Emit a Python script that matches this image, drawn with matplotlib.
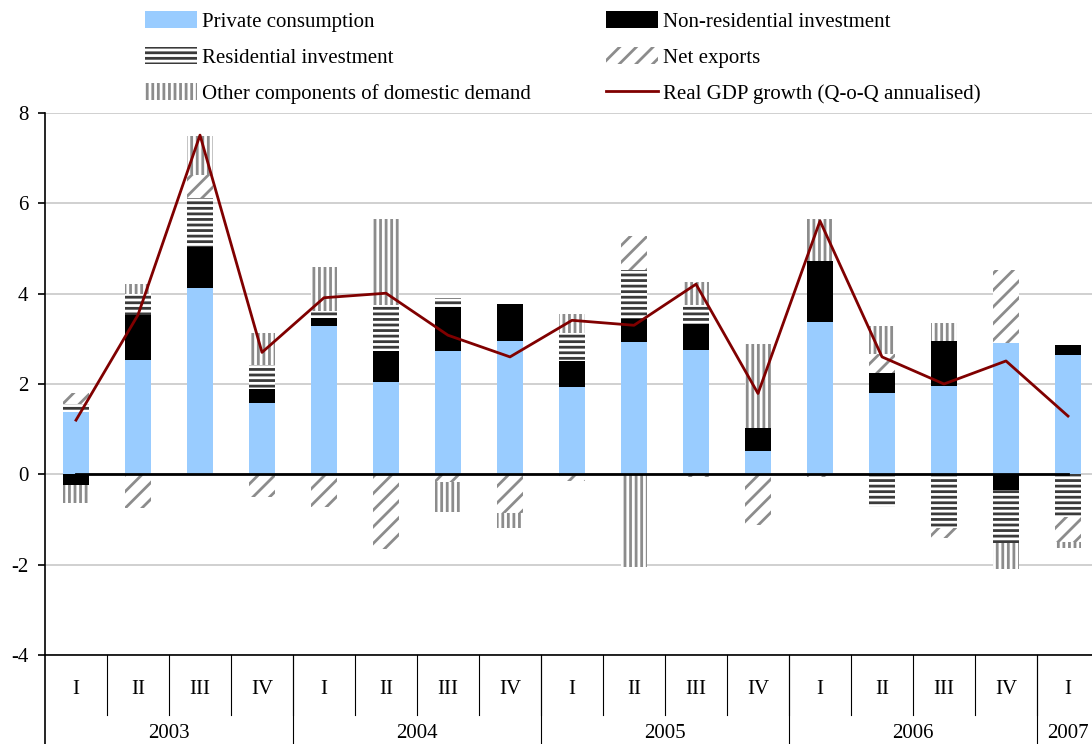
import numpy as np
import matplotlib.pyplot as plt

plt.rcParams['font.family'] = ['Liberation Serif', 'DejaVu Serif']
plt.rcParams['hatch.linewidth'] = 2.0
plt.rcParams['axes.unicode_minus'] = False

# Contributions to real GDP growth, percentage points
quarters = ['I', 'II', 'III', 'IV'] * 4 + ['I']
years = ['2003', '2004', '2005', '2006', '2007']
year_quarters = [4, 4, 4, 4, 1]

private_consumption = [1.39, 2.53, 4.13, 1.58, 3.28, 2.04, 2.73, 2.95, 1.94,
                       2.93, 2.75, 0.52, 3.37, 1.80, 1.95, 2.90, 2.64]
non_residential = [-0.24, 1.00, 0.90, 0.30, 0.19, 0.69, 0.98, 0.82, 0.57,
                   0.52, 0.58, 0.50, 1.35, 0.44, 1.00, -0.35, 0.22]
residential = [0.16, 0.47, 1.08, 0.54, 0.15, 1.03, 0.19, 0.00, 0.63,
               1.07, 0.43, 0.00, 0.00, -0.72, -1.18, -1.18, -0.94]
net_exports = [0.26, -0.74, 0.52, -0.50, -0.73, -1.65, -0.18, -0.85, -0.15,
               0.76, -0.05, -1.13, -0.07, 0.42, -0.22, 1.62, -0.55]
other_domestic = [-0.39, 0.21, 0.87, 0.70, 0.97, 1.89, -0.65, -0.33, 0.40,
                  -2.05, 0.50, 1.86, 0.93, 0.62, 0.40, -0.56, -0.13]
gdp_growth = [1.20, 3.53, 7.51, 2.70, 3.91, 4.01, 3.08, 2.60, 3.41,
              3.30, 4.21, 1.79, 5.61, 2.60, 2.00, 2.51, 1.29]

components = [
    ('Private consumption', private_consumption,
     dict(facecolor='#99ccff', edgecolor='#99ccff')),
    ('Non-residential investment', non_residential,
     dict(facecolor='black', edgecolor='black')),
    ('Residential investment', residential,
     dict(facecolor='white', edgecolor='#3a3a3a', hatch='---')),
    ('Net exports', net_exports,
     dict(facecolor='white', edgecolor='#8c8c8c', hatch='//')),
    ('Other components of domestic demand', other_domestic,
     dict(facecolor='white', edgecolor='#8c8c8c', hatch='|||')),
]

fig = plt.figure(figsize=(10.92, 7.44), dpi=100)
ax = fig.add_axes([45 / 1092, 89 / 744, 1054 / 1092, 542 / 744])

x = np.arange(len(quarters))
pos = np.zeros(len(x))
neg = np.zeros(len(x))
handles = {}
for label, vals, style in components:
    v = np.array(vals)
    bottom = np.where(v >= 0, pos, neg)
    handles[label] = ax.bar(x, v, width=0.42, bottom=bottom, linewidth=0,
                            label=label, zorder=2, **style)
    pos += np.clip(v, 0, None)
    neg += np.clip(v, None, 0)

ax.plot([x[0], x[-1]], [0, 0], color='black', lw=2, zorder=3)
gdp_line, = ax.plot(x, gdp_growth, color='#800000', lw=2, zorder=4,
                    label='Real GDP growth (Q-o-Q annualised)')

ax.set_xlim(-0.5, len(x) - 0.5)
ax.set_ylim(-4, 8)
ax.set_yticks(np.arange(-4, 9, 2))
ax.yaxis.grid(True, color='#c8c8c8', lw=1.2)
ax.set_axisbelow(True)
ax.set_xticks([])
ax.tick_params(axis='y', direction='out', length=5, width=1.2, labelsize=15, pad=7)
for side in ('top', 'right'):
    ax.spines[side].set_visible(False)
for side in ('left', 'bottom'):
    ax.spines[side].set_linewidth(1.2)

# category table under the plot
trans = ax.get_xaxis_transform()
for i, q in enumerate(quarters):
    ax.text(i, -0.064, q, transform=trans, ha='center', va='center', fontsize=15)
for b in range(1, len(x)):
    ax.plot([b - 0.5, b - 0.5], [0, -0.111], transform=trans, color='black',
            lw=0.8, clip_on=False)
start = 0
for yr, n in zip(years, year_quarters):
    ax.text(start + (n - 1) / 2, -0.145, yr, transform=trans, ha='center',
            va='center', fontsize=15)
    ax.plot([start - 0.5, start - 0.5], [0, -0.2], transform=trans,
            color='black', lw=0.8 if start else 1.2, clip_on=False)
    start += n

order = ['Private consumption', 'Residential investment',
         'Other components of domestic demand', 'Non-residential investment',
         'Net exports']
leg_handles = [handles[k] for k in order] + [gdp_line]
leg_labels = order + ['Real GDP growth (Q-o-Q annualised)']
fig.legend(leg_handles, leg_labels, ncol=2, loc='upper left',
           bbox_to_anchor=(145 / 1092, 1 - 11 / 744), frameon=False,
           fontsize=15, handlelength=2.5, handleheight=0.9, handletextpad=0.25,
           columnspacing=3.6, labelspacing=0.72, borderpad=0, borderaxespad=0)

fig.savefig('out.png', dpi=100)
